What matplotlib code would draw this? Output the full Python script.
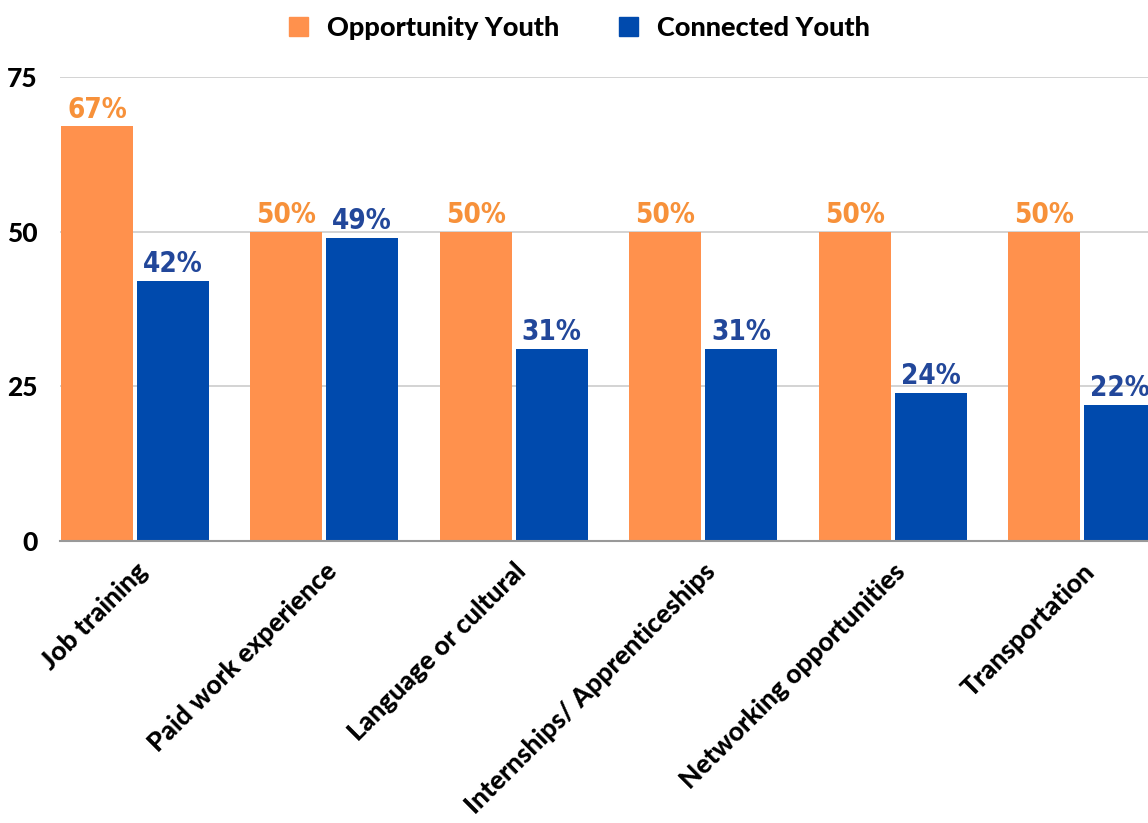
import numpy as np
import matplotlib
matplotlib.use("Agg")
import matplotlib.pyplot as plt
from matplotlib.patches import Patch

categories = [
    "Job training",
    "Paid work experience",
    "Language or cultural",
    "Internships/ Apprenticeships",
    "Networking opportunities",
    "Transportation",
]
opportunity = [67, 50, 50, 50, 50, 50]
connected = [42, 49, 31, 31, 24, 22]
yticks = [0, 25, 50, 75]

ORANGE = "#FF914D"
BLUE = "#004AAD"
ORANGE_LBL = "#F7913A"
BLUE_LBL = "#22479A"

MAIN_FONT = "Lato"
MAIN_WEIGHT = 900

fig = plt.figure(figsize=(11.48, 8.23), dpi=100)
ax = fig.add_axes([60 / 1148, 1 - 541 / 823, 1 - 60 / 1148, (541 - 77) / 823])

x = np.arange(len(categories))
w = 0.38
b1 = ax.bar(x - 0.2, opportunity, w, color=ORANGE, zorder=3)
b2 = ax.bar(x + 0.2, connected, w, color=BLUE, zorder=3)

for bars, vals, c in [(b1, opportunity, ORANGE_LBL), (b2, connected, BLUE_LBL)]:
    for bar, v in zip(bars, vals):
        ax.annotate(f"{v}%", (bar.get_x() + bar.get_width() / 2, v),
                    xytext=(0, 2), textcoords="offset points",
                    ha="center", va="bottom", color=c,
                    fontsize=20, fontweight="bold", fontstretch="condensed",
                    family="DejaVu Sans", annotation_clip=False)

ax.set_xlim(-0.395, 5.348)
ax.set_ylim(0, 75)
ax.set_yticks(yticks)
ax.set_yticklabels([str(t) for t in yticks], fontsize=19, fontweight=MAIN_WEIGHT,
                   family=MAIN_FONT)
ax.tick_params(axis="y", length=0, pad=16)
ax.set_xticks(x)
ax.set_xticklabels(categories, rotation=45, ha="right", rotation_mode="anchor",
                   fontsize=19, fontweight=MAIN_WEIGHT, family=MAIN_FONT)
ax.tick_params(axis="x", length=0, pad=13)

ax.yaxis.grid(True, color="#CCCCCC", linewidth=1.2, zorder=0)
for s in ["top", "right", "left"]:
    ax.spines[s].set_visible(False)
ax.spines["bottom"].set_color("#999999")
ax.spines["bottom"].set_linewidth(1.5)
ax.spines["bottom"].set_zorder(4)

handles = [Patch(color=ORANGE, label="Opportunity Youth"),
           Patch(color=BLUE, label="Connected Youth")]
fig.legend(handles=handles, loc="upper center", bbox_to_anchor=(0.505, 1.01),
           ncol=2, frameon=False, handlelength=0.7, handleheight=0.7,
           columnspacing=2.2, handletextpad=0.7,
           prop={"family": MAIN_FONT, "weight": MAIN_WEIGHT, "size": 19.5})

fig.savefig("out.png", dpi=100)
